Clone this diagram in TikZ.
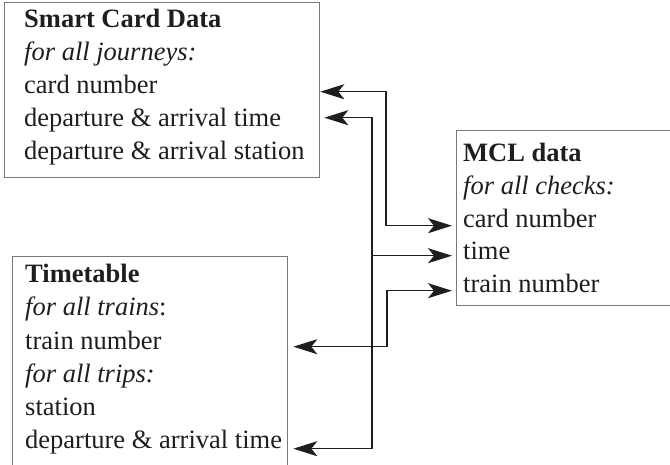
\documentclass[tikz,border=0pt]{standalone}
\usepackage{fontspec}
\setmainfont{Liberation Serif}
\usetikzlibrary{arrows.meta,calc}

\definecolor{boxgray}{RGB}{120,120,120}
\definecolor{ink}{RGB}{30,30,30}

\begin{document}
\begin{tikzpicture}[x=1pt,y=-1pt,
  databox/.style={draw=boxgray, line width=1.3pt, rectangle, inner sep=0pt,
                  anchor=north west},
  entry/.style={anchor=base west, inner sep=0pt, text=ink,
                font=\fontsize{26.5pt}{33pt}\selectfont},
  tip/.tip={Stealth[length=24pt,width=15pt,inset=6pt]},
  link/.style={draw=ink, line width=1.4pt, arrows={tip-tip}},
  linkto/.style={draw=ink, line width=1.4pt, arrows={-tip}}]
  \useasboundingbox (0,0) rectangle (670,465);
  \clip (0,0) rectangle (670,465);

  % the three data sources
  \node[databox, minimum width=315pt, minimum height=175pt] (sc)  at (4,2) {};
  \node[databox, minimum width=260pt, minimum height=175pt] (mcl) at (456,130) {};
  \node[databox, minimum width=275pt, minimum height=230pt] (tt)  at (12,256) {};

  % Smart Card Data
  \node[entry] (sc1) at (24,28)  {\textbf{Smart Card Data}};
  \node[entry] (sc2) at (24,61)  {\textit{for all journeys:}};
  \node[entry] (sc3) at (24,94)  {card number};
  \node[entry] (sc4) at (24,127) {departure \& arrival time};
  \node[entry] (sc5) at (24,160) {departure \& arrival station};

  % MCL data
  \node[entry] (m1) at (463,162) {\textbf{MCL data}};
  \node[entry] (m2) at (463,195) {\textit{for all checks:}};
  \node[entry] (m3) at (463,228) {card number};
  \node[entry] (m4) at (463,260) {time};
  \node[entry] (m5) at (463,293) {train number};

  % Timetable
  \node[entry] (t1) at (25,283) {\textbf{Timetable}};
  \node[entry] (t2) at (25,316) {\textit{for all trains}:};
  \node[entry] (t3) at (25,349) {train number};
  \node[entry] (t4) at (25,382) {\textit{for all trips:}};
  \node[entry] (t5) at (25,415) {station};
  \node[entry] (t6) at (25,448) {departure \& arrival time};

  % connector end points and the vertical runs between the boxes
  \coordinate (scA)  at (sc.east |- sc3.mid);
  \coordinate (scB)  at ($(sc.east |- sc4.mid)+(4pt,7pt)$);
  \coordinate (mclA) at ($(mcl.west |- m3.mid)+(-4pt,0pt)$);
  \coordinate (mclB) at ($(mcl.west |- m4.mid)+(-4pt,2pt)$);
  \coordinate (mclC) at ($(mcl.west |- m5.mid)+(-4pt,0pt)$);
  \coordinate (ttA)  at ($(tt.east |- t3.mid)+(5pt,0pt)$);
  \coordinate (ttB)  at ($(tt.east |- t6.mid)+(5pt,-3pt)$);
  \coordinate (runA) at (386,0);
  \coordinate (runB) at (372,0);
  \coordinate (runC) at (387,0);

  % card number <-> card number
  \draw[link] (scA) -- (scA -| runA) |- (mclA);
  % departure & arrival time <-> timetable time, branching to MCL time
  \draw[link] (scB) -- (scB -| runB) |- (ttB);
  \draw[linkto] (runB |- mclB) -- (mclB);
  % train number <-> train number
  \draw[link] (mclC) -- (mclC -| runC) |- (ttA);
\end{tikzpicture}
\end{document}
